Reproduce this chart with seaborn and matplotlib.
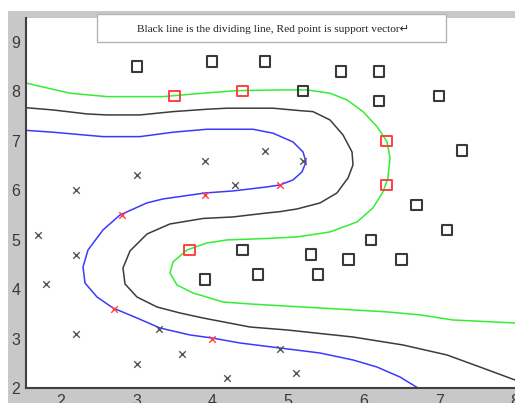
import matplotlib
matplotlib.use("Agg")
import matplotlib.pyplot as plt
from matplotlib.patches import Rectangle
import seaborn as sns

# ---- data ----
cls_pos_x = [3.0, 4.0, 4.7, 5.2, 5.7, 6.2, 6.2, 7.0, 7.3, 6.7, 7.1, 6.1, 4.4, 4.6, 5.3, 5.4, 5.8, 6.5, 3.9]
cls_pos_y = [8.5, 8.6, 8.6, 8.0, 8.4, 8.4, 7.8, 7.9, 6.8, 5.7, 5.2, 5.0, 4.8, 4.3, 4.7, 4.3, 4.6, 4.6, 4.2]
sv_pos_x = [3.5, 4.4, 6.3, 6.3, 3.7]
sv_pos_y = [7.9, 8.0, 7.0, 6.1, 4.8]

cls_neg_x = [1.7, 2.2, 2.2, 3.0, 3.9, 4.3, 4.7, 5.2, 1.8, 2.2, 3.3, 3.0, 3.6, 4.2, 4.9, 5.1]
cls_neg_y = [5.1, 6.0, 4.7, 6.3, 6.6, 6.1, 6.8, 6.6, 4.1, 3.1, 3.2, 2.5, 2.7, 2.2, 2.8, 2.3]
sv_neg_x = [2.8, 3.9, 4.9, 2.7, 4.0]
sv_neg_y = [5.5, 5.9, 6.1, 3.6, 3.0]

# contour level -1 (blue)
blue_x = [1.458, 1.894, 2.555, 3.044, 3.480, 3.929, 4.537, 4.802, 5.066, 5.198, 5.238, 5.185,
          5.066, 4.894, 4.722, 4.273, 3.903, 3.348, 3.137, 2.780, 2.555, 2.357, 2.291, 2.317,
          2.476, 2.687, 3.004, 3.308, 3.705, 3.996, 4.366, 4.894, 5.423, 5.859, 6.176, 6.480, 6.718]
blue_y = [7.218, 7.172, 7.083, 7.083, 7.172, 7.232, 7.232, 7.152, 6.976, 6.774, 6.572, 6.370,
          6.208, 6.107, 6.067, 5.986, 5.945, 5.824, 5.745, 5.501, 5.198, 4.794, 4.451, 4.127,
          3.844, 3.622, 3.420, 3.218, 3.077, 3.016, 2.915, 2.814, 2.713, 2.572, 2.430, 2.228, 2.006]

# contour level 0 (black, dividing line)
black_x = [1.458, 1.894, 2.344, 2.608, 3.044, 3.480, 3.929, 4.194, 4.802, 5.158, 5.330, 5.555,
           5.727, 5.846, 5.859, 5.793, 5.647, 5.423, 5.119, 4.894, 4.722, 4.273, 3.877, 3.440,
           3.137, 2.912, 2.819, 2.846, 3.004, 3.269, 3.573, 3.877, 4.498, 4.987, 5.859, 6.520,
           7.101, 7.537, 8.0]
black_y = [7.677, 7.622, 7.541, 7.521, 7.521, 7.588, 7.636, 7.657, 7.657, 7.608, 7.588, 7.420,
           7.117, 6.774, 6.511, 6.248, 5.945, 5.743, 5.622, 5.568, 5.541, 5.461, 5.430, 5.319,
           5.117, 4.774, 4.430, 4.107, 3.844, 3.642, 3.521, 3.420, 3.238, 3.178, 3.036, 2.875,
           2.673, 2.430, 2.168]

# contour level +1 (green)
green_x = [1.458, 1.683, 2.119, 2.608, 3.348, 3.877, 4.326, 4.894, 5.251, 5.555, 5.780, 5.991,
           6.176, 6.308, 6.348, 6.321, 6.255, 6.123, 5.912, 5.555, 5.119, 4.722, 4.194, 3.929,
           3.665, 3.480, 3.440, 3.533, 3.744, 3.969, 4.141, 4.498, 5.423, 6.308, 6.744, 7.180, 8.0]
green_y = [8.194, 8.113, 7.960, 7.891, 7.891, 7.960, 8.012, 8.026, 8.026, 7.960, 7.824, 7.588,
           7.285, 6.982, 6.653, 6.249, 5.966, 5.642, 5.360, 5.158, 5.057, 5.026, 4.996, 4.935,
           4.794, 4.551, 4.329, 4.087, 3.925, 3.824, 3.743, 3.703, 3.622, 3.543, 3.483, 3.380, 3.319]

x_ticks = [2, 3, 4, 5, 6, 7, 8]
y_ticks = [2, 3, 4, 5, 6, 7, 8, 9]
title_text = "Black line is the dividing line, Red point is support vector\u21b5"

# ---- figure ----
sns.set_style("white")
plt.rcParams["font.family"] = ["Liberation Sans", "DejaVu Sans"]

W, H = 515, 403
fig = plt.figure(figsize=(W / 100, H / 100), dpi=100, facecolor="white")
fig.patches.append(Rectangle((8 / W, 0), 1 - 8 / W, (H - 11) / H, transform=fig.transFigure,
                             facecolor="#c8c8c8", edgecolor="none", zorder=-1))
ax = fig.add_axes([26 / W, (H - 388.3) / H, (W - 26) / W, (388.3 - 18.3) / H])
ax.set_facecolor("white")

lw = 1.1
sns.lineplot(x=blue_x, y=blue_y, sort=False, estimator=None, color="#3a3aff", linewidth=lw, ax=ax)
sns.lineplot(x=black_x, y=black_y, sort=False, estimator=None, color="#3c3c3c", linewidth=lw, ax=ax)
sns.lineplot(x=green_x, y=green_y, sort=False, estimator=None, color="#33ee33", linewidth=lw, ax=ax)

sns.scatterplot(x=cls_pos_x, y=cls_pos_y, marker="s", s=55, facecolor="none",
                edgecolor="#3a3a3a", linewidth=1.5, ax=ax, zorder=3)
sns.scatterplot(x=sv_pos_x, y=sv_pos_y, marker="s", s=55, facecolor="none",
                edgecolor="#ff4040", linewidth=1.4, ax=ax, zorder=3)
sns.scatterplot(x=cls_neg_x, y=cls_neg_y, marker="x", s=22, color="#555555",
                linewidth=1.0, ax=ax, zorder=3)
sns.scatterplot(x=sv_neg_x, y=sv_neg_y, marker="x", s=22, color="#ff4040",
                linewidth=1.0, ax=ax, zorder=3)

ax.set_xlim(2 - 35 / 75.67, 8.0)
ax.set_ylim(2, 9 + (41.7 - 18.3) / 49.5)
ax.set_xticks(x_ticks)
ax.set_yticks(y_ticks)
ax.set_xticklabels([str(v) for v in x_ticks])
ax.set_yticklabels([str(v) for v in y_ticks])
ax.tick_params(direction="in", length=4, width=1.0, color="#404040", labelsize=11.5,
               labelcolor="#3a3a3a", pad=4)
for side in ["top", "right"]:
    ax.spines[side].set_visible(False)
for side in ["left", "bottom"]:
    ax.spines[side].set_color("#404040")
    ax.spines[side].set_linewidth(1.5)

# title box
fig.patches.append(Rectangle((97 / W, (H - 42) / H), 349 / W, 28 / H, transform=fig.transFigure,
                             facecolor="white", edgecolor="#b4b4b4", linewidth=1.0, zorder=5))
fig.text(273 / W, (H - 29) / H, title_text, ha="center", va="center", fontsize=8.2,
         family=["Liberation Serif", "DejaVu Sans"], color="#222222", zorder=6)

fig.savefig("out.png", dpi=100, facecolor="white")
